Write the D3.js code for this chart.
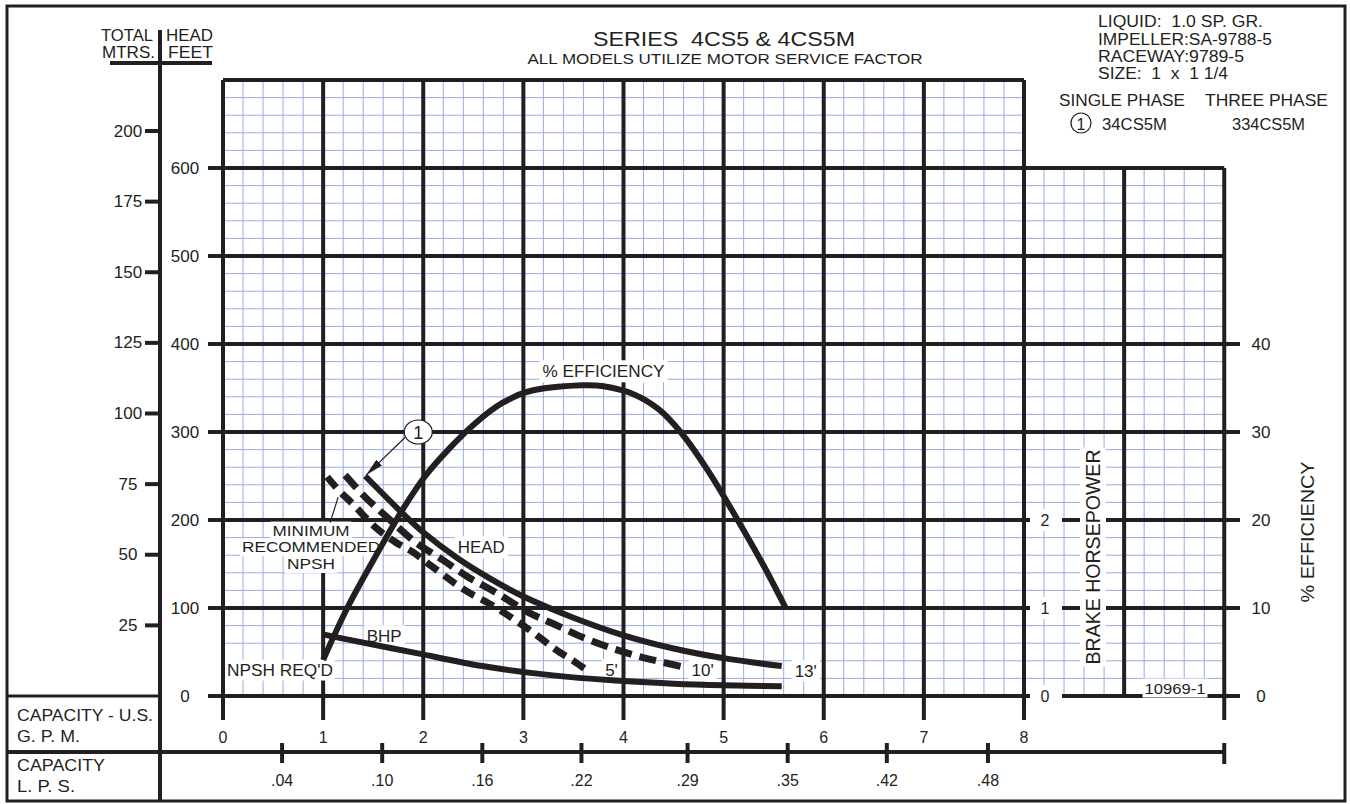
<!DOCTYPE html>
<html>
<head>
<meta charset="utf-8">
<script src="https://cdn.jsdelivr.net/npm/d3@7/dist/d3.min.js"></script>
<style>
  body { margin: 0; background: #fff; }
  svg text { font-family: Arial, "Liberation Sans", Helvetica, sans-serif; fill: #231f20; white-space: pre; }
</style>
</head>
<body>
<svg id="chart" width="1350" height="804"></svg>
<script>
// axis ticks
const gpmTicks = [0, 1, 2, 3, 4, 5, 6, 7, 8];
const feetTicks = [0, 100, 200, 300, 400, 500, 600];
const meterTicks = [25, 50, 75, 100, 125, 150, 175, 200];
const bhpTicks = [0, 1, 2];
const effTicks = [0, 10, 20, 30, 40];
const lpsLabels = ['.04', '.10', '.16', '.22', '.29', '.35', '.42', '.48'];
const lpsAtGpm = [0.59, 1.59, 2.59, 3.58, 4.64, 5.64, 6.63, 7.64];

// curves (gpm vs feet / hp / %)
const headGpm = [1.42, 1.79, 2.0, 2.35, 2.69, 3.0, 3.5, 4.0, 4.5, 5.0, 5.58];
const headFt  = [250, 208, 186, 156, 132, 113, 89, 69, 54, 43, 34];
const npsh10Gpm = [1.22, 1.42, 1.64, 1.92, 2.19, 2.45, 2.72, 3.05, 3.32, 3.65, 4.09, 4.6];
const npsh10Ft  = [251, 226, 203, 175, 155, 135, 118, 95, 81, 64, 47, 33];
const npsh5Gpm = [1.04, 1.17, 1.29, 1.52, 1.72, 1.89, 2.09, 2.42, 2.69, 2.92, 3.1, 3.32, 3.5, 3.65];
const npsh5Ft  = [249, 232, 219, 192, 175, 164, 147, 120, 103, 86, 72, 53, 40, 28];
const effGpm = [1.0, 1.25, 1.59, 1.8, 2.02, 2.25, 2.52, 2.79, 3.05, 3.59, 3.8, 4.1, 4.35, 4.57, 4.85, 5.14, 5.4, 5.62];
const effPct = [4.1, 10.2, 17.2, 21.3, 25.0, 28, 31, 33.3, 34.6, 35.3, 35.2, 34.3, 32.6, 30, 25.5, 20, 14.8, 10];
const bhpGpm = [1.0, 1.25, 1.92, 2.59, 3.25, 3.92, 4.5, 5.0, 5.58];
const bhpHp  = [0.70, 0.64, 0.49, 0.34, 0.24, 0.175, 0.14, 0.122, 0.11];

const svg = d3.select('#chart');
const ink = '#231f20';
const blue = '#98aae2';

const x = d3.scaleLinear().domain([0, 8]).range([223, 1024]);
const y = d3.scaleLinear().domain([0, 700]).range([696, 80]);
const yM = d3.scaleLinear().domain([0, 200]).range([696, 131]);
const yHp = d3.scaleLinear().domain([0, 7]).range([696, 80]);
const yEff = d3.scaleLinear().domain([0, 70]).range([696, 80]);

const seg = (g, x1, y1, x2, y2, w, c) => g.append('line')
  .attr('x1', x1).attr('y1', y1).attr('x2', x2).attr('y2', y2)
  .attr('stroke', c || ink).attr('stroke-width', w);

// frame
svg.append('rect').attr('x', 7).attr('y', 6).attr('width', 1338).attr('height', 795)
  .attr('fill', '#fff').attr('stroke', ink).attr('stroke-width', 3);

// minor grid
const minor = svg.append('g');
d3.range(1, 50).filter(i => i % 5 !== 0).forEach(i => {
  const v = i * 0.2;
  seg(minor, x(v), i > 40 ? y(600) : y(700), x(v), y(0), 1, blue);
});
d3.range(1, 35).filter(j => j % 5 !== 0).forEach(j => {
  const v = j * 20;
  seg(minor, x(0), y(v), j > 30 ? x(8) : x(10), y(v), 1, blue);
});

// heavy grid + ticks
const heavy = svg.append('g');
gpmTicks.forEach(v => seg(heavy, x(v), y(700), x(v), 720, 4));
seg(heavy, x(9), y(600), x(9), y(0), 4);
seg(heavy, x(10), y(600), x(10), 720, 4);
feetTicks.forEach(v => seg(heavy, 208, y(v), v >= 500 ? x(10) : 1240, y(v), 4));
seg(heavy, x(0), y(700), x(8), y(700), 4);

// left scales
seg(heavy, 160, 30, 160, 801, 4);
seg(heavy, 110, 63, 212, 63, 4);
meterTicks.forEach(v => seg(heavy, 145, yM(v), 160, yM(v), 4));
seg(heavy, 7, 696, 160, 696, 3);
seg(heavy, 7, 752, x(10), 752, 4);
lpsAtGpm.forEach(v => seg(heavy, x(v), 743, x(v), 763, 4));
seg(heavy, x(10), 743, x(10), 764, 4);

const txt = (g, s, px, py, o = {}) => {
  const t = g.append('text').attr('x', px).attr('y', py)
    .attr('font-size', o.size || 17)
    .attr('text-anchor', o.anchor || 'middle')
    .attr('dominant-baseline', 'central')
    .text(s);
  if (o.len) t.attr('textLength', o.len).attr('lengthAdjust', 'spacingAndGlyphs');
  if (o.rot) t.attr('transform', `rotate(-90,${px},${py})`);
  return t;
};
const boxed = (g, s, px, py, o = {}, pad = 3) => {
  const t = txt(g, s, px, py, o);
  const b = t.node().getBBox();
  let r;
  if (o.rot) {
    r = { x: px - b.height / 2 - pad, y: py - b.width / 2 - pad, w: b.height + pad * 2, h: b.width + pad * 2 };
  } else {
    r = { x: b.x - pad, y: b.y - pad / 2, w: b.width + pad * 2, h: b.height + pad };
  }
  g.insert('rect', () => t.node()).attr('x', r.x).attr('y', r.y)
    .attr('width', r.w).attr('height', r.h).attr('fill', '#fff');
  return t;
};

const lab = svg.append('g');
feetTicks.forEach(v => txt(lab, v, 185, y(v)));
meterTicks.forEach(v => txt(lab, v, 128, yM(v)));
gpmTicks.forEach(v => txt(lab, v, x(v), 737, { size: 16 }));
lpsLabels.forEach((s, i) => txt(lab, s, x(lpsAtGpm[i]), 780, { size: 16 }));
effTicks.forEach(v => txt(lab, v, 1261, yEff(v)));
bhpTicks.forEach(v => {
  lab.append('rect').attr('x', 1030).attr('y', yHp(v) - 11).attr('width', 32).attr('height', 22).attr('fill', '#fff');
  txt(lab, v, 1045, yHp(v), { size: 16 });
});
boxed(lab, 'BRAKE HORSEPOWER', 1093, 557, { size: 20, rot: true, len: 215 }, 2);
txt(lab, '% EFFICIENCY', 1307, 532, { size: 19, rot: true, len: 141 });
boxed(lab, '10969-1', 1175, 688, { size: 15, len: 61 }, 2);

// headers
txt(lab, 'TOTAL', 153, 35, { anchor: 'end', len: 52 });
txt(lab, 'HEAD', 166, 35, { anchor: 'start', len: 47 });
txt(lab, 'MTRS.', 155, 52, { anchor: 'end', len: 53 });
txt(lab, 'FEET', 168, 52, { anchor: 'start', len: 45 });
txt(lab, 'CAPACITY - U.S.', 17, 715, { anchor: 'start', len: 136 });
txt(lab, 'G. P. M.', 17, 736, { anchor: 'start', len: 63 });
txt(lab, 'CAPACITY', 17, 765, { anchor: 'start', len: 88 });
txt(lab, 'L. P. S.', 17, 786, { anchor: 'start', len: 58 });

txt(lab, 'SERIES  4CS5 & 4CS5M', 724, 38, { size: 21, len: 262 });
txt(lab, 'ALL MODELS UTILIZE MOTOR SERVICE FACTOR', 725, 58, { size: 15, len: 395 });

txt(lab, 'LIQUID:  1.0 SP. GR.', 1098, 21, { anchor: 'start', size: 16, len: 165 });
txt(lab, 'IMPELLER:SA-9788-5', 1098, 39, { anchor: 'start', size: 16, len: 174 });
txt(lab, 'RACEWAY:9789-5', 1098, 56, { anchor: 'start', size: 16, len: 146 });
txt(lab, 'SIZE:  1  x  1 1/4', 1098, 73, { anchor: 'start', size: 16, len: 130 });
txt(lab, 'SINGLE PHASE', 1059, 100, { anchor: 'start', size: 16.5, len: 126 });
txt(lab, 'THREE PHASE', 1205, 100, { anchor: 'start', size: 16.5, len: 123 });
lab.append('circle').attr('cx', 1081).attr('cy', 123).attr('r', 10)
  .attr('fill', 'none').attr('stroke', ink).attr('stroke-width', 1.2);
txt(lab, '1', 1081, 124, { size: 16 });
txt(lab, '34CS5M', 1102, 124, { anchor: 'start', size: 16, len: 65 });
txt(lab, '334CS5M', 1232, 124, { anchor: 'start', size: 16, len: 73 });

// curve labels
boxed(lab, 'MINIMUM', x(0.88), y(188), { size: 14, len: 77 }, 2);
boxed(lab, 'RECOMMENDED', x(0.88), y(169), { size: 14, len: 138 }, 2);
boxed(lab, 'NPSH', x(0.88), y(150), { size: 14, len: 48 }, 2);
boxed(lab, 'HEAD', x(2.58), y(169), { len: 47 });
boxed(lab, 'BHP', x(1.61), y(68), { len: 35 });
boxed(lab, "NPSH REQ'D", x(0.57), y(29.5), { len: 106 }, 2);
boxed(lab, '% EFFICIENCY', x(3.8), y(369), { len: 122 });
boxed(lab, "5'", x(3.88), y(29.5), {});
boxed(lab, "10'", x(4.79), y(29.5), {});
boxed(lab, "13'", x(5.82), y(28.4), {});

// curves
const curves = svg.append('g').attr('fill', 'none').attr('stroke', ink);
const line = d3.line().curve(d3.curveCatmullRom.alpha(0.5));
const pts = (gx, gy, sy) => gx.map((g, i) => [x(g), sy(gy[i])]);

curves.append('path').attr('d', line(pts(bhpGpm, bhpHp, yHp))).attr('stroke-width', 6);
curves.append('path').attr('d', line(pts(effGpm, effPct, yEff))).attr('stroke-width', 6);
curves.append('path').attr('d', line(pts(headGpm, headFt, y))).attr('stroke-width', 6);
curves.append('path').attr('d', line(pts(npsh10Gpm, npsh10Ft, y))).attr('stroke-width', 7).attr('stroke-dasharray', '17,8');
curves.append('path').attr('d', line(pts(npsh5Gpm, npsh5Ft, y))).attr('stroke-width', 7).attr('stroke-dasharray', '14,8');

// callout
const defs = svg.append('defs');
defs.append('marker').attr('id', 'arr').attr('viewBox', '0 0 18 8')
  .attr('refX', 18).attr('refY', 4).attr('markerWidth', 18).attr('markerHeight', 8)
  .attr('markerUnits', 'userSpaceOnUse').attr('orient', 'auto')
  .append('path').attr('d', 'M0,0L18,4L0,8Z').attr('fill', ink);
const ann = svg.append('g');
seg(ann, x(1.82), y(294), x(1.43), y(251), 1.2).attr('marker-end', 'url(#arr)');
seg(ann, x(1.07), y(197), x(1.15), y(226), 1.2);
ann.append('ellipse').attr('cx', x(1.95)).attr('cy', y(300)).attr('rx', 14).attr('ry', 12)
  .attr('fill', '#fff').attr('stroke', ink).attr('stroke-width', 1.2);
txt(ann, '1', x(1.95), y(300) + 1, { size: 18 });
</script>
</body>
</html>
